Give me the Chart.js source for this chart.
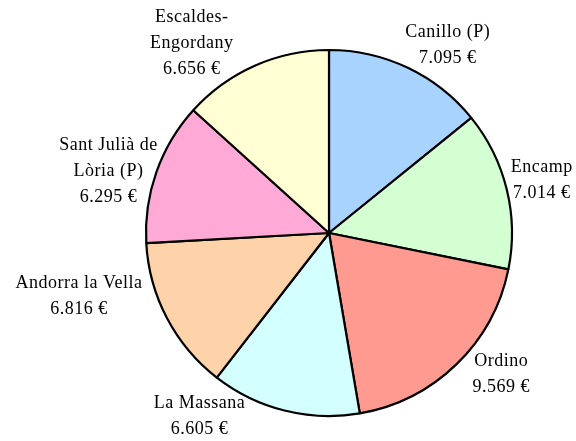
<!DOCTYPE html>
<html>
<head>
<meta charset="utf-8">
<script src="https://cdn.jsdelivr.net/npm/chart.js@4"></script>
<style>
  html, body { margin: 0; padding: 0; background: #ffffff; }
  #wrap { width: 576px; height: 441px; }
</style>
</head>
<body>
<div id="wrap"><canvas id="pie" width="576" height="441"></canvas></div>
<script>
// Parishes, clockwise from twelve o'clock (one entry per label line)
const parishes = [
  ['Canillo (P)'],
  ['Encamp'],
  ['Ordino'],
  ['La Massana'],
  ['Andorra la Vella'],
  ['Sant Julià de', 'Lòria (P)'],
  ['Escaldes-', 'Engordany']
];
// Amounts in euros
const amounts = [7095, 7014, 9569, 6605, 6816, 6295, 6656];

const sliceColors = ['#a9d3ff', '#d3ffd3', '#ff9a90', '#d3ffff', '#ffd3a9', '#ffaad6', '#ffffd3'];
// Where each label block sits, relative to the rim point at the slice's middle angle
const labelNudge = [[40, -23], [35, -9], [45, 10], [-85, 6], [-88, -22], [-48, -1], [-63, -22]];

function euro(v) {
  const s = String(Math.round(v));
  return s.replace(/\B(?=(\d{3})+(?!\d))/g, '.') + ' €';
}

const outsideLabels = {
  id: 'outsideLabels',
  afterDatasetsDraw(chart) {
    const ctx = chart.ctx;
    const meta = chart.getDatasetMeta(0);
    const lineH = 26;
    ctx.save();
    ctx.font = '18px "Liberation Serif", "DejaVu Serif", serif';
    if ('letterSpacing' in ctx) ctx.letterSpacing = '0.5px';
    ctx.fillStyle = '#000000';
    ctx.textAlign = 'center';
    ctx.textBaseline = 'middle';
    meta.data.forEach((arc, i) => {
      const p = arc.getProps(['x', 'y', 'startAngle', 'endAngle', 'outerRadius'], true);
      const mid = (p.startAngle + p.endAngle) / 2;
      const rx = p.x + Math.cos(mid) * p.outerRadius;
      const ry = p.y + Math.sin(mid) * p.outerRadius;
      const lines = parishes[i].concat([euro(amounts[i])]);
      const cx = rx + labelNudge[i][0];
      const cy = ry + labelNudge[i][1];
      const top = cy - (lines.length - 1) * lineH / 2;
      lines.forEach((t, k) => ctx.fillText(t, cx, top + k * lineH));
    });
    ctx.restore();
  }
};

new Chart(document.getElementById('pie'), {
  type: 'pie',
  data: {
    labels: parishes.map(l => l.join(' ')),
    datasets: [{
      data: amounts,
      backgroundColor: sliceColors,
      borderColor: '#000000',
      borderWidth: 2.2,
      radius: 183
    }]
  },
  options: {
    responsive: false,
    animation: false,
    layout: { padding: { left: 139, right: 57, top: 43, bottom: 18 } },
    plugins: {
      legend: { display: false },
      tooltip: { enabled: false }
    }
  },
  plugins: [outsideLabels]
});
</script>
</body>
</html>
